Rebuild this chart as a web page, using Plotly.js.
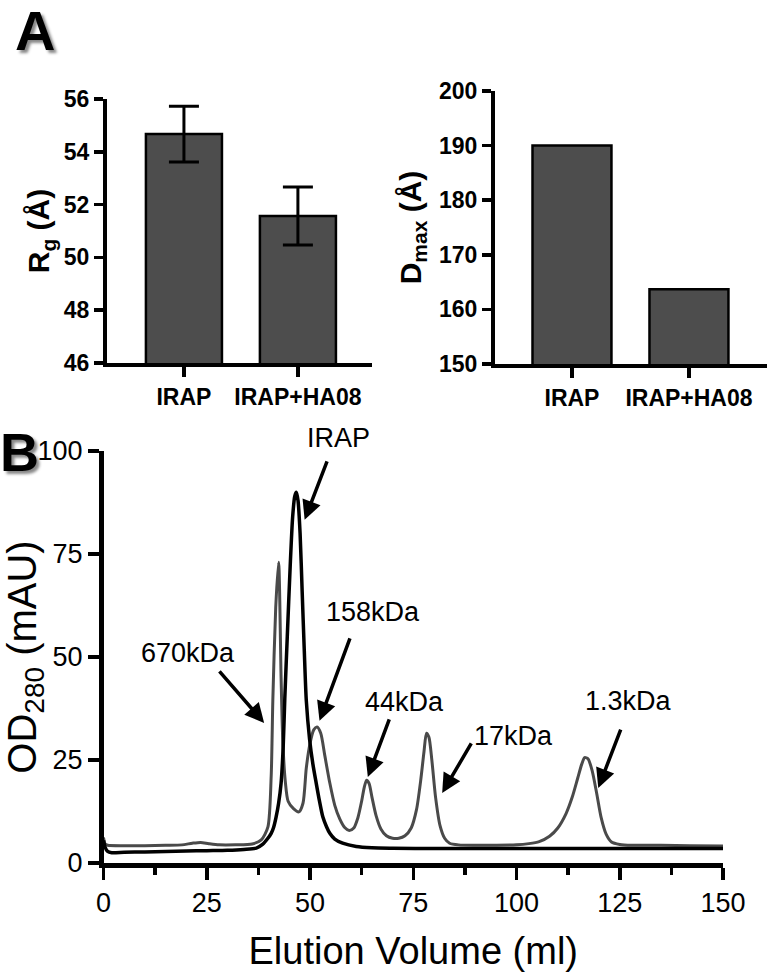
<!DOCTYPE html>
<html>
<head>
<meta charset="utf-8">
<script src="https://cdn.plot.ly/plotly-3.0.1.min.js"></script>
<style>html,body{margin:0;padding:0;background:#fff;}#chart{width:767px;height:973px;}</style>
</head>
<body>
<div id="chart"></div>
<script>
// ---- Panel A data ----
const barCategories = ['IRAP', 'IRAP+HA08'];
const rgValues = [54.67, 51.57];
const rgErrors = [1.06, 1.1];
const dmaxValues = [190, 163.7];

// ---- Panel B data: elution profiles ----
const stdVolume = [0, 0.4, 1, 5, 10, 15, 19, 21.5, 23.5, 25.5, 28, 32, 36, 38.2, 39.8, 40.6, 41, 41.7, 42.4, 43, 43.4, 44, 44.7, 46, 47.3, 48.3, 49.1, 50, 50.9, 51.7, 52.6, 53.6, 54.8, 56, 57.2, 58.4, 59.5, 60.6, 61.6, 62.5, 63.1, 63.7, 64.3, 65, 66, 67.2, 68.5, 70, 71.5, 73, 74.5, 75.8, 76.8, 77.6, 78.2, 78.8, 79.5, 80.4, 81.5, 82.6, 83.8, 86, 90, 95, 100, 103, 105.5, 108, 110, 112, 113.5, 114.8, 115.8, 116.5, 117.3, 118.3, 119.4, 120.5, 121.7, 123, 125, 128, 135, 142, 150];
const stdOD = [6.2, 4.6, 4.3, 4.2, 4.2, 4.3, 4.4, 4.8, 5.0, 4.7, 4.4, 4.4, 4.6, 5.6, 8.7, 21, 39.5, 62, 73, 45, 30, 20, 15, 13.2, 12.4, 14.5, 23, 29, 32.3, 33, 31.5, 26, 19.4, 14, 10.7, 8.6, 7.9, 8.5, 11, 15, 18.2, 20.1, 19.3, 16, 11.5, 8.2, 6.6, 6.0, 6.0, 6.6, 8.5, 13, 20, 27, 31.5, 30.5, 25, 16, 9, 6, 4.8, 4.4, 4.3, 4.3, 4.4, 4.7, 5.2, 6.5, 8.5, 12, 16, 20.5, 24, 25.6, 25.3, 22.5, 17, 11, 7, 5.1, 4.5, 4.3, 4.3, 4.2, 4.1];

const irapVolume = [0, 0.4, 1, 2, 5, 10, 15, 20, 25, 30, 34, 37, 38.5, 39.8, 40.6, 41.2, 41.8, 42.4, 43, 43.5, 43.9, 44.5, 45.2, 45.8, 46.3, 46.7, 47.1, 47.6, 48.1, 48.6, 49.1, 49.9, 50.7, 51.5, 52.3, 53.1, 54, 54.8, 56, 57.9, 61.2, 65, 70, 80, 100, 125, 150];
const irapOD = [5.5, 3.8, 2.8, 2.5, 2.6, 2.7, 2.8, 2.9, 3.0, 3.1, 3.3, 3.6, 4.5, 6.0, 7.2, 8.7, 11.2, 14.5, 19.4, 28, 40, 55, 72, 84, 89, 90, 88, 80, 66, 52, 39.5, 30, 24, 19.4, 15, 11.2, 8.8, 7.2, 5.8, 4.8, 4.0, 3.7, 3.6, 3.5, 3.5, 3.5, 3.5];

// peak labels: text, arrow tip (ml, mAU), arrow tail offset (px), label centre (ml, mAU)
const peakLabels = ['IRAP', '670kDa', '158kDa', '44kDa', '17kDa', '1.3kDa'];
const peakTipX = [48.7, 38.9, 52.3, 64.0, 82.0, 119.8];
const peakTipY = [83.3, 34.0, 34.5, 20.9, 17.0, 18.2];
const peakTailDX = [23, -46, 31, 22, 30, 23];
const peakTailDY = [-60, -53, -84, -59, -51, -60];
const peakLabelX = [56.8, 20.4, 65.2, 72.9, 99.3, 127.2];
const peakLabelY = [103.2, 51, 61, 39.1, 30.8, 39.3];

const FONT = 'Liberation Sans, Arial, Helvetica, sans-serif';
const BARFILL = '#4d4d4d';

const traces = [
  {
    type: 'bar', x: barCategories, y: rgValues, xaxis: 'x', yaxis: 'y',
    width: 0.667,
    marker: {color: BARFILL, line: {color: '#000', width: 2.5}},
    error_y: {type: 'data', array: rgErrors, visible: true, color: '#000', thickness: 3, width: 15},
    showlegend: false, hoverinfo: 'none'
  },
  {
    type: 'bar', x: barCategories, y: dmaxValues, xaxis: 'x2', yaxis: 'y2',
    width: 0.675,
    marker: {color: BARFILL, line: {color: '#000', width: 2.5}},
    showlegend: false, hoverinfo: 'none'
  },
  {
    type: 'scatter', mode: 'lines', x: stdVolume, y: stdOD, xaxis: 'x3', yaxis: 'y3',
    line: {color: '#4a4a4a', width: 3, shape: 'spline', smoothing: 0.7},
    showlegend: false, hoverinfo: 'none', cliponaxis: true
  },
  {
    type: 'scatter', mode: 'lines', x: irapVolume, y: irapOD, xaxis: 'x3', yaxis: 'y3',
    line: {color: '#000', width: 3.5, shape: 'spline', smoothing: 0.7},
    showlegend: false, hoverinfo: 'none', cliponaxis: true
  }
];

const boldTick = {family: FONT, size: 23, color: '#000', weight: 'bold'};
const barAxisCommon = {
  showline: true, linecolor: '#000', linewidth: 4, mirror: false,
  ticks: 'outside', ticklen: 9, tickwidth: 3.5, tickcolor: '#000',
  showgrid: false, zeroline: false, tickfont: boldTick, fixedrange: true
};

const annotations = [
  {xref: 'paper', yref: 'paper', x: 35 / 767, y: 1 - 30 / 973, text: 'A', showarrow: false,
   font: {family: FONT, size: 56, color: '#000', weight: 'bold', shadow: '3px 3px 3px #888'},
   xanchor: 'center', yanchor: 'middle'},
  {xref: 'paper', yref: 'paper', x: 19 / 767, y: 1 - 452 / 973, text: 'B', showarrow: false,
   font: {family: FONT, size: 54, color: '#000', weight: 'bold', shadow: '3px 3px 3px #888'},
   xanchor: 'center', yanchor: 'middle'}
];
for (let i = 0; i < peakLabels.length; i++) {
  annotations.push({
    xref: 'x3', yref: 'y3', x: peakTipX[i], y: peakTipY[i], text: '',
    showarrow: true, arrowhead: 2, arrowsize: 1.1, arrowwidth: 3.5, arrowcolor: '#000',
    ax: peakTailDX[i], ay: peakTailDY[i], standoff: 0, startstandoff: 0
  });
  // labels placed in the B panel's domain frame so the top one (above 100 mAU) is still drawn
  annotations.push({
    xref: 'x3 domain', yref: 'y3 domain', x: peakLabelX[i] / 150, y: peakLabelY[i] / 100,
    text: peakLabels[i],
    showarrow: false, font: {family: FONT, size: 27, color: '#000'},
    xanchor: 'center', yanchor: 'middle'
  });
}

const layout = {
  width: 767, height: 973,
  margin: {l: 0, r: 0, t: 0, b: 0},
  paper_bgcolor: '#fff', plot_bgcolor: 'rgba(0,0,0,0)',
  font: {family: FONT, color: '#000'},
  showlegend: false,
  bargap: 0,
  xaxis: Object.assign({}, barAxisCommon, {
    domain: [107 / 767, 372 / 767], anchor: 'y', type: 'category',
    range: [-0.675, 1.65], ticklen: 10
  }),
  yaxis: Object.assign({}, barAxisCommon, {
    domain: [1 - 363 / 973, 1 - 99 / 973], anchor: 'x',
    range: [46, 56], dtick: 2, tick0: 46,
    title: {text: 'R<sub>g</sub> (Å)', font: {family: FONT, size: 30, color: '#000', weight: 'bold'}, standoff: 6}
  }),
  xaxis2: Object.assign({}, barAxisCommon, {
    domain: [495 / 767, 1], anchor: 'y2', type: 'category',
    range: [-0.658, 1.667], ticklen: 10
  }),
  yaxis2: Object.assign({}, barAxisCommon, {
    domain: [1 - 364 / 973, 1 - 91 / 973], anchor: 'x2',
    range: [150, 200], dtick: 10, tick0: 150,
    title: {text: 'D<sub>max</sub> (Å)', font: {family: FONT, size: 30, color: '#000', weight: 'bold'}, standoff: 10}
  }),
  xaxis3: {
    domain: [103.5 / 767, 723 / 767], anchor: 'y3',
    range: [0, 150], dtick: 25, tick0: 0,
    showline: true, linecolor: '#000', linewidth: 4.5,
    ticks: 'outside', ticklen: 12, tickwidth: 3.5, tickcolor: '#000',
    minor: {dtick: 12.5, tick0: 0, ticks: 'outside', ticklen: 7, tickwidth: 3.5, tickcolor: '#000'},
    showgrid: false, zeroline: false, fixedrange: true,
    tickfont: {family: FONT, size: 27, color: '#000'},
    title: {text: 'Elution Volume (ml)', font: {family: FONT, size: 38, color: '#000'}, standoff: 22}
  },
  yaxis3: {
    domain: [1 - 863 / 973, 1 - 451 / 973], anchor: 'x3',
    range: [0, 100], dtick: 25, tick0: 0,
    showline: true, linecolor: '#000', linewidth: 4.5,
    ticks: 'outside', ticklen: 11, tickwidth: 3.5, tickcolor: '#000',
    showgrid: false, zeroline: false, fixedrange: true,
    tickfont: {family: FONT, size: 27, color: '#000'},
    title: {text: 'OD<sub>280</sub> (mAU)', font: {family: FONT, size: 40, color: '#000'}, standoff: 2}
  },
  annotations: annotations
};

Plotly.newPlot('chart', traces, layout, {staticPlot: true, displayModeBar: false});
</script>
</body>
</html>
